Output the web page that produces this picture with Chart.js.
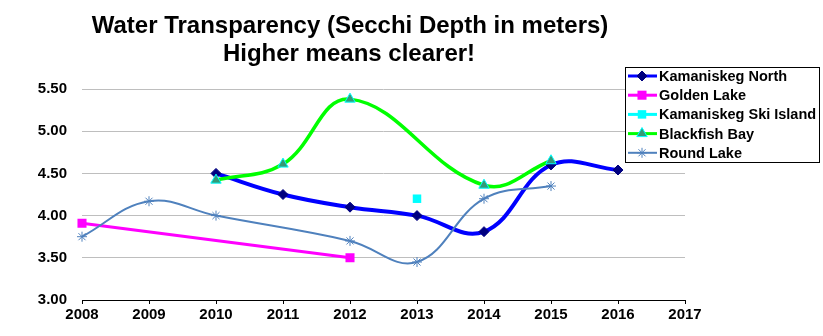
<!DOCTYPE html>
<html>
<head>
<meta charset="utf-8">
<script src="https://cdn.jsdelivr.net/npm/chart.js@4/dist/chart.umd.min.js"></script>
<style>
    body { margin: 0; background: #fff; }
    #wrap { position: relative; width: 823px; height: 336px; }
</style>
</head>
<body>
<div id="wrap"><canvas id="secchiChart"></canvas></div>
<script>
// years on the x axis
const years = ["2008", "2009", "2010", "2011", "2012", "2013", "2014", "2015", "2016", "2017"];

// Secchi depth readings (m), null where a lake was not sampled
const kamaniskegNorth = [null, null, 4.50, 4.25, 4.10, 4.00, 3.81, 4.60, 4.54, null];
const goldenLake = [3.91, null, null, null, 3.50, null, null, null, null, null];
const kamaniskegSkiIsland = [null, null, null, null, null, 4.20, null, null, null, null];
const blackfishBay = [null, null, 4.42, 4.61, 5.38, null, 4.36, 4.65, null, null];
const roundLake = [3.75, 4.17, 4.00, null, 3.70, 3.45, 4.20, 4.35, null, null];

const yTicks = [3.00, 3.50, 4.00, 4.50, 5.00, 5.50];
const titleLines = ["Water Transparency (Secchi Depth in meters)", "Higher means clearer!"];

const FONT = '"Liberation Sans", Arial, sans-serif';

const datasets = [
    {
        label: "Kamaniskeg North",
        data: kamaniskegNorth,
        borderColor: "#0000FF",
        borderWidth: 4,
        tension: 0.4,
        pointStyle: "rectRot",
        pointRadius: 5,
        pointBackgroundColor: "#000080",
        pointBorderColor: "#000080",
        pointBorderWidth: 1,
        order: 5
    },
    {
        label: "Golden Lake",
        data: goldenLake,
        borderColor: "#FF00FF",
        borderWidth: 3,
        tension: 0,
        pointStyle: "rect",
        pointRadius: 6.4,
        pointBackgroundColor: "#FF00FF",
        pointBorderColor: "#FF00FF",
        pointBorderWidth: 0,
        order: 4
    },
    {
        label: "Kamaniskeg Ski Island",
        data: kamaniskegSkiIsland,
        borderColor: "#00FFFF",
        borderWidth: 3,
        showLine: false,
        pointStyle: "rect",
        pointRadius: 6,
        pointBackgroundColor: "#00FFFF",
        pointBorderColor: "#00FFFF",
        pointBorderWidth: 0,
        order: 3
    },
    {
        label: "Blackfish Bay",
        data: blackfishBay,
        borderColor: "#00FF00",
        borderWidth: 3.5,
        tension: 0.4,
        pointStyle: "triangle",
        pointRadius: 6,
        pointBackgroundColor: "#339977",
        pointBorderColor: "#00FFFF",
        pointBorderWidth: 1,
        order: 2
    },
    {
        label: "Round Lake",
        data: roundLake,
        borderColor: "#4F81BD",
        borderWidth: 2,
        tension: 0.4,
        pointStyle: "star",
        pointRadius: 5,
        pointBackgroundColor: "#4F81BD",
        pointBorderColor: "#4F81BD",
        pointBorderWidth: 1,
        order: 1
    }
];

// title and boxed legend, drawn over the plot like the spreadsheet original
const overlayPlugin = {
    id: "overlay",
    afterDraw(chart) {
        const ctx = chart.ctx;
        ctx.save();
        ctx.fillStyle = "#000";
        ctx.font = "bold 24px " + FONT;
        ctx.textAlign = "center";
        ctx.textBaseline = "alphabetic";
        ctx.fillText(titleLines[0], 350, 33);
        ctx.fillText(titleLines[1], 349, 60.5);

        // legend box
        const bx = 625.5, by = 67.5, bw = 194, bh = 95;
        ctx.fillStyle = "#fff";
        ctx.fillRect(bx, by, bw, bh);
        ctx.strokeStyle = "#000";
        ctx.lineWidth = 1;
        ctx.strokeRect(bx, by, bw, bh);

        ctx.font = "bold 14.5px " + FONT;
        ctx.textAlign = "left";
        ctx.textBaseline = "middle";
        chart.data.datasets.forEach((ds, i) => {
            const y = 76 + i * 19.2;
            ctx.strokeStyle = ds.borderColor;
            ctx.lineWidth = Math.min(ds.borderWidth, 3);
            ctx.beginPath();
            ctx.moveTo(628, y);
            ctx.lineTo(657, y);
            ctx.stroke();

            ctx.fillStyle = ds.pointBackgroundColor;
            ctx.strokeStyle = ds.pointBorderColor;
            ctx.lineWidth = ds.pointBorderWidth || 1;
            Chart.helpers.drawPoint(ctx, {
                pointStyle: ds.pointStyle,
                radius: ds.pointRadius,
                rotation: 0,
                borderWidth: ds.pointBorderWidth
            }, 642, y);

            ctx.fillStyle = "#000";
            ctx.fillText(ds.label, 659, y + 1);
        });
        ctx.restore();
    }
};

new Chart(document.getElementById("secchiChart"), {
    type: "line",
    data: { labels: years, datasets: datasets },
    plugins: [overlayPlugin],
    options: {
        responsive: true,
        maintainAspectRatio: false,
        animation: false,
        spanGaps: true,
        layout: { padding: { top: 89, right: 138, bottom: 0, left: 0 } },
        plugins: {
            legend: { display: false },
            title: { display: false },
            tooltip: { enabled: false }
        },
        scales: {
            x: {
                offset: false,
                afterFit: scale => { scale.height = 36; },
                grid: { drawOnChartArea: false, drawTicks: true, tickLength: 4, color: "#000" },
                border: { display: true, color: "#000", width: 1 },
                ticks: {
                    color: "#000",
                    padding: 2,
                    maxRotation: 0,
                    autoSkip: false,
                    font: { family: FONT, size: 15, weight: "bold" }
                }
            },
            y: {
                min: yTicks[0],
                max: yTicks[yTicks.length - 1],
                afterFit: scale => { scale.width = 82; },
                afterBuildTicks: scale => { scale.ticks = yTicks.map(v => ({ value: v })); },
                grid: { color: "#BEBEBE", lineWidth: 1, drawTicks: false },
                border: { display: false },
                ticks: {
                    color: "#000",
                    padding: 15,
                    callback: v => v.toFixed(2),
                    font: { family: FONT, size: 15, weight: "bold" }
                }
            }
        }
    }
});
</script>
</body>
</html>
